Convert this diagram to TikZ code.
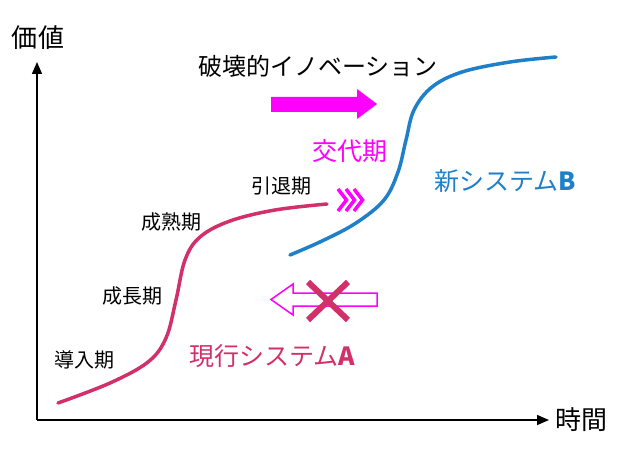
\documentclass[tikz,border=0pt]{standalone}
\usepackage{fontspec}
\setmainfont{Noto Sans CJK JP}
\usetikzlibrary{arrows.meta}
\definecolor{mag}{HTML}{FF00FF}
\definecolor{crim}{HTML}{D1306A}
\definecolor{bluec}{HTML}{1F7FC9}
\tikzset{
  lbl/.style={inner sep=0pt, font=\fontsize{20}{22}\selectfont},
  big/.style={inner sep=0pt, font=\fontsize{25}{27}\selectfont},
  axis/.style={line width=1.5pt, -{Triangle[length=12pt,width=10pt]}},
  curve/.style={line width=3.5pt, line cap=round}
}
\begin{document}
\begin{tikzpicture}[x=1pt,y=-1pt]
\useasboundingbox (0,0) rectangle (620,465);
\fill[white] (0,0) rectangle (620,465);
% axes
\coordinate (O) at (37,420);
\coordinate (ytop) at (37,62);
\coordinate (xend) at (549,420);
\draw[axis] (O) -- (ytop);
\draw[axis] (O) -- (xend);
\node[big, font=\fontsize{26}{28}\selectfont] (yl) at (38,38) {価値};
\node[big, font=\fontsize{26}{28}\selectfont] (xl) at (581,420) {時間};
% title
\node[big, font=\fontsize{24}{26}\selectfont] (title) at (318,66) {破壊的イノベーション};
% forward arrow
\fill[mag] (271,97) -- (357,97) -- (357,89) -- (377,104) -- (357,119) -- (357,112) -- (271,112) -- cycle;
\node[big, text=mag] (kotai) at (350,151) {交代期};
% red curve
\draw[curve, crim] plot[smooth, tension=0.6] coordinates {(58,403) (110,383) (148,362) (166,338) (176,300) (185,260) (200,237) (230,221) (275,210) (327,204)};
% blue curve
\draw[curve, bluec] plot[smooth, tension=0.6] coordinates {(290,255) (322,241) (356,223) (384,200) (398,172) (406,140) (414,110) (432,87) (462,72) (510,62) (556,57)};
% chevrons
\foreach \cx in {338,346,354}{
  \draw[mag, line width=3.5pt] (\cx,189) -- (\cx+8.5,200) -- (\cx,211);
}
% labels
\node[lbl] (intai) at (281,186) {引退期};
\node[lbl] (seijuku) at (171,222) {成熟期};
\node[lbl] (seicho) at (132,296) {成長期};
\node[lbl] (donyu) at (84,360) {導入期};
\node[big, text=crim] (sysA) at (272,356) {現行システム{\bfseries A}};
\node[big, text=bluec] (sysB) at (505,181) {新システム{\bfseries B}};
% backward hollow arrow
\draw[mag, line width=1.5pt, fill=white] (377,293) -- (293,293) -- (293,284) -- (271,299.5) -- (293,315) -- (293,306) -- (377,306) -- cycle;
% cross
\draw[crim, line width=6pt] (308,282) -- (348,320);
\draw[crim, line width=6pt] (348,282) -- (308,320);
\end{tikzpicture}
\end{document}
